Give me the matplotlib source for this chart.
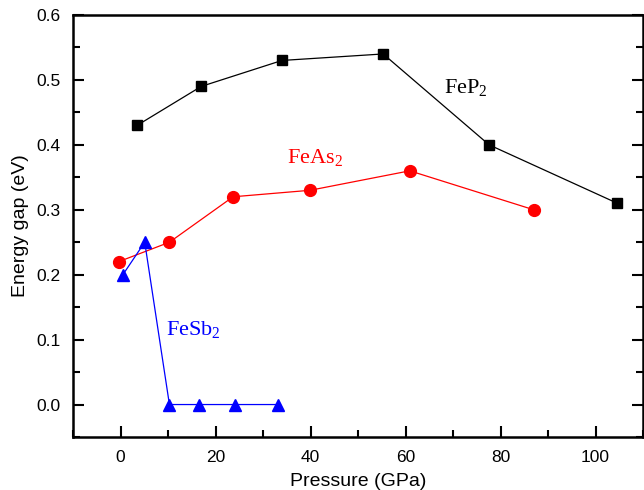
import matplotlib.pyplot as plt
from matplotlib.ticker import MultipleLocator

# data
fep2_p = [3.5, 17, 34, 55.3, 77.6, 104.6]
fep2_gap = [0.43, 0.49, 0.53, 0.54, 0.40, 0.31]

feas2_p = [-0.4, 10.3, 23.7, 39.9, 60.9, 87]
feas2_gap = [0.22, 0.25, 0.32, 0.33, 0.36, 0.30]

fesb2_p = [0.5, 5.1, 10.3, 16.6, 24.2, 33.2]
fesb2_gap = [0.20, 0.25, 0.0, 0.0, 0.0, 0.0]

plt.rcParams['font.family'] = ['Liberation Sans', 'DejaVu Sans']

fig = plt.figure(figsize=(6.44, 4.9), dpi=100)
ax = fig.add_axes([73/644, 53/490, 570/644, 422/490])

ax.plot(fep2_p, fep2_gap, color="black", linewidth=0.9, marker="s", markersize=7.5)
ax.plot(feas2_p, feas2_gap, color="red", linewidth=0.9, marker="o", markersize=8.5)
ax.plot(fesb2_p, fesb2_gap, color="blue", linewidth=0.9, marker="^", markersize=8.5)

# curve labels
lab = dict(fontsize=16, family="Liberation Serif", ha="left", va="center")
ax.text(68, 0.488, r"FeP$_\mathregular{2}$", color="black", **lab)
ax.text(35, 0.38, r"FeAs$_\mathregular{2}$", color="red", **lab)
ax.text(9.6, 0.114, r"FeSb$_\mathregular{2}$", color="blue", **lab)

ax.set_xlim(-10, 110)
ax.set_ylim(-0.05, 0.6)
ax.xaxis.set_major_locator(MultipleLocator(20))
ax.xaxis.set_minor_locator(MultipleLocator(10))
ax.yaxis.set_major_locator(MultipleLocator(0.1))
ax.yaxis.set_minor_locator(MultipleLocator(0.05))
ax.yaxis.set_major_formatter(plt.FormatStrFormatter('%.1f'))

ax.tick_params(which="both", direction="in", top=False, right=True, width=1.5, labelsize=12.5)
ax.tick_params(which="major", length=8, pad=9)
ax.tick_params(which="minor", length=5)
for s in ax.spines.values():
    s.set_linewidth(1.8)

ax.set_xlabel("Pressure (GPa)", fontsize=14, labelpad=6)
ax.set_ylabel("Energy gap (eV)", fontsize=14, labelpad=5)

fig.savefig("out.png", dpi=100)
